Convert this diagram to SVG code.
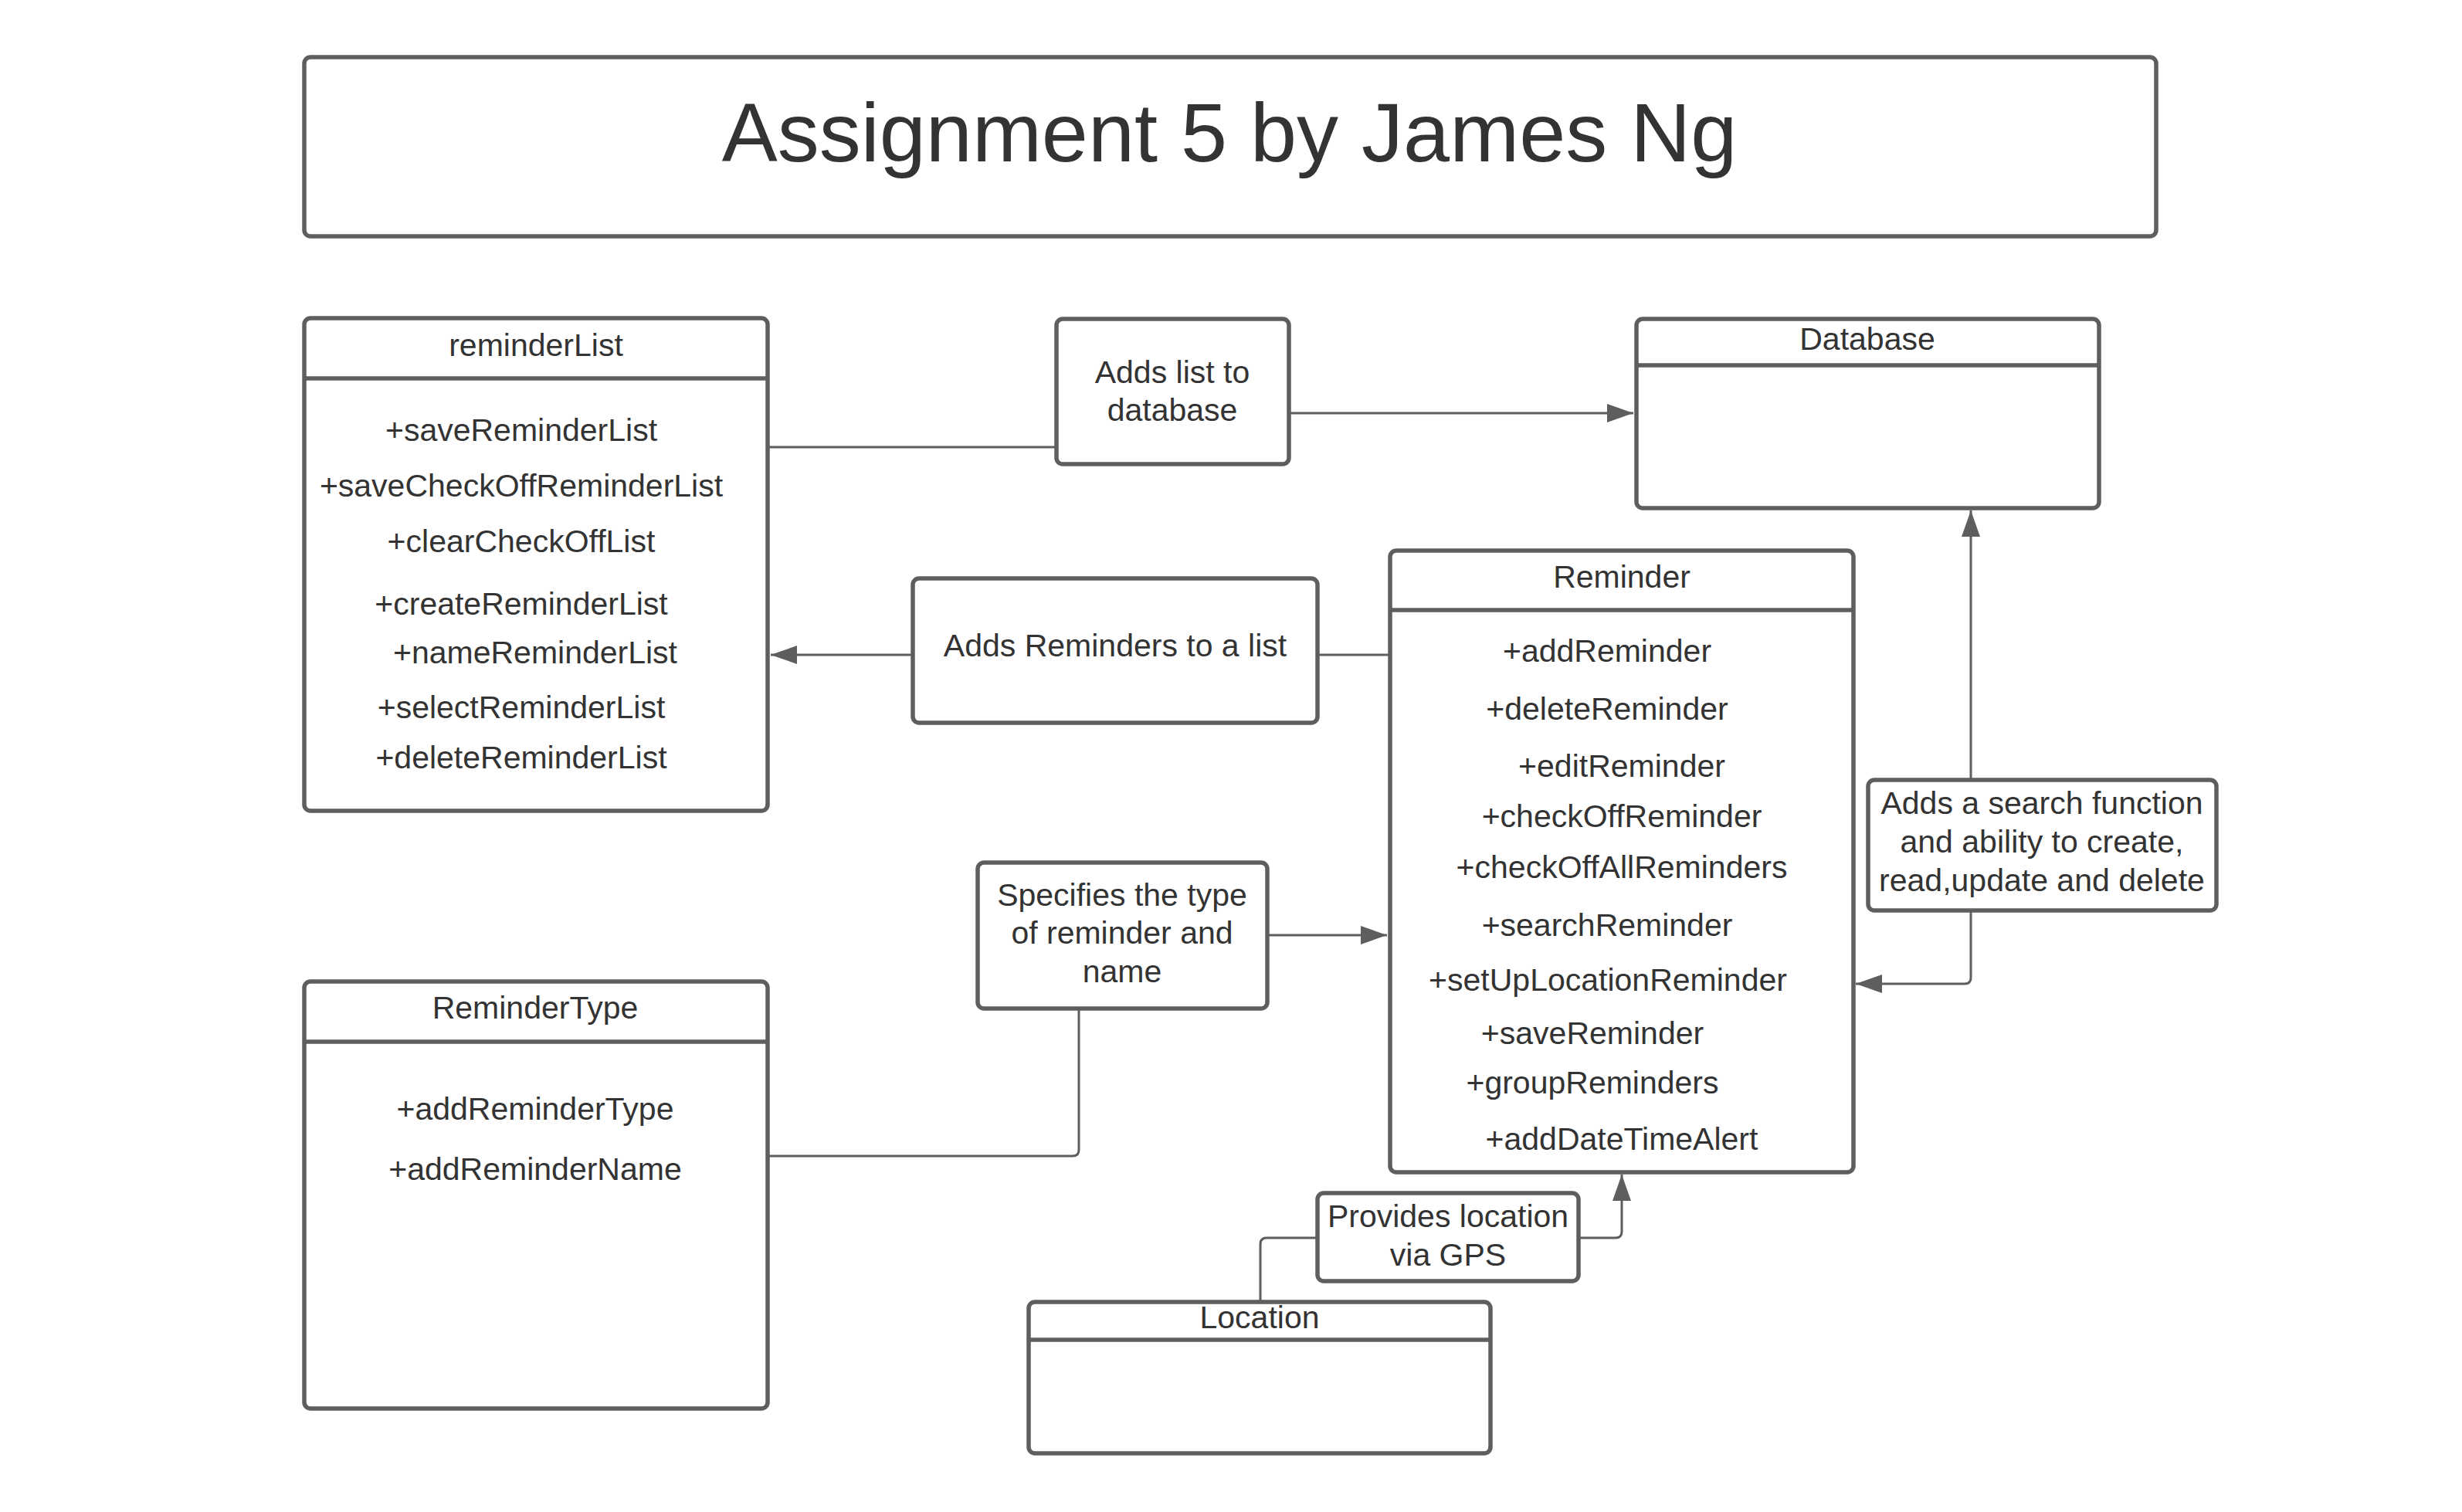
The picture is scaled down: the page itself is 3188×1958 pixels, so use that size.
<svg xmlns="http://www.w3.org/2000/svg" width="3188" height="1958" viewBox="0 0 3188 1958">
<style>
.box{fill:#ffffff;stroke:#5e5e5e;stroke-width:5.5}
.div{stroke:#5e5e5e;stroke-width:5.5;fill:none}
.t{font-family:"Liberation Sans",Arial,sans-serif;font-size:41px;fill:#333333;text-anchor:middle}
.title{font-family:"Liberation Sans",Arial,sans-serif;font-size:108px;fill:#333333;text-anchor:middle}
.c{fill:none;stroke:#5e5e5e;stroke-width:3}
</style>
<defs>
<marker id="arr" markerWidth="34" markerHeight="24" refX="34" refY="12" orient="auto" markerUnits="userSpaceOnUse">
<path d="M0,0 L34,12 L0,24 z" fill="#5e5e5e"/>
</marker>
</defs>
<rect width="3188" height="1958" fill="#ffffff"/>

<g id="connectors">
<path class="c" d="M994 579 H1368"/>
<path class="c" d="M1669 535 H2115" marker-end="url(#arr)"/>
<path class="c" d="M1800 848 H1706"/>
<path class="c" d="M1182 848 H998" marker-end="url(#arr)"/>
<path class="c" d="M1641 1211 H1796" marker-end="url(#arr)"/>
<path class="c" d="M1397 1306 V1489 Q1397 1497 1389 1497 H994"/>
<path class="c" d="M1632 1686 V1611 Q1632 1603 1640 1603 H1706"/>
<path class="c" d="M2044 1603 H2092 Q2100 1603 2100 1595 V1521" marker-end="url(#arr)"/>
<path class="c" d="M2552 1010 V661" marker-end="url(#arr)"/>
<path class="c" d="M2552 1179 V1266 Q2552 1274 2544 1274 H2403" marker-end="url(#arr)"/>
</g>

<g id="title">
<rect class="box" x="394" y="74" width="2398" height="232" rx="8"/>
<text class="title" x="1592" y="209">Assignment 5 by James Ng</text>
</g>

<g id="reminderList">
<rect class="box" x="394" y="412" width="600" height="638" rx="8"/>
<line class="div" x1="394" y1="490" x2="994" y2="490"/>
<text class="t" x="694" y="461">reminderList</text>
<text class="t" x="675" y="571">+saveReminderList</text>
<text class="t" x="675" y="643">+saveCheckOffReminderList</text>
<text class="t" x="675" y="715">+clearCheckOffList</text>
<text class="t" x="675" y="796">+createReminderList</text>
<text class="t" x="693" y="859">+nameReminderList</text>
<text class="t" x="675" y="930">+selectReminderList</text>
<text class="t" x="675" y="995">+deleteReminderList</text>
</g>

<g id="addsListToDatabase">
<rect class="box" x="1368" y="413" width="301" height="188" rx="8"/>
<text class="t" x="1518" y="496">Adds list to</text>
<text class="t" x="1518" y="545">database</text>
</g>

<g id="database">
<rect class="box" x="2119" y="413" width="599" height="245" rx="8"/>
<line class="div" x1="2119" y1="473" x2="2718" y2="473"/>
<text class="t" x="2418" y="453">Database</text>
</g>

<g id="addsRemindersToList">
<rect class="box" x="1182" y="749" width="524" height="187" rx="8"/>
<text class="t" x="1444" y="850">Adds Reminders to a list</text>
</g>

<g id="reminder">
<rect class="box" x="1800" y="713" width="600" height="805" rx="8"/>
<line class="div" x1="1800" y1="790" x2="2400" y2="790"/>
<text class="t" x="2100" y="761">Reminder</text>
<text class="t" x="2081" y="857">+addReminder</text>
<text class="t" x="2081" y="932">+deleteReminder</text>
<text class="t" x="2100" y="1006">+editReminder</text>
<text class="t" x="2100" y="1071">+checkOffReminder</text>
<text class="t" x="2100" y="1137">+checkOffAllReminders</text>
<text class="t" x="2081" y="1212">+searchReminder</text>
<text class="t" x="2082" y="1283">+setUpLocationReminder</text>
<text class="t" x="2062" y="1352">+saveReminder</text>
<text class="t" x="2062" y="1416">+groupReminders</text>
<text class="t" x="2100" y="1489">+addDateTimeAlert</text>
</g>

<g id="searchFunction">
<rect class="box" x="2419" y="1010" width="451" height="169" rx="8"/>
<text class="t" x="2644" y="1054">Adds a search function</text>
<text class="t" x="2644" y="1104">and ability to create,</text>
<text class="t" x="2644" y="1154">read,update and delete</text>
</g>

<g id="specifiesType">
<rect class="box" x="1266" y="1117" width="375" height="189" rx="8"/>
<text class="t" x="1453" y="1173">Specifies the type</text>
<text class="t" x="1453" y="1222">of reminder and</text>
<text class="t" x="1453" y="1272">name</text>
</g>

<g id="reminderType">
<rect class="box" x="394" y="1271" width="600" height="553" rx="8"/>
<line class="div" x1="394" y1="1349" x2="994" y2="1349"/>
<text class="t" x="693" y="1319">ReminderType</text>
<text class="t" x="693" y="1450">+addReminderType</text>
<text class="t" x="693" y="1528">+addReminderName</text>
</g>

<g id="providesLocation">
<rect class="box" x="1706" y="1545" width="338" height="114" rx="8"/>
<text class="t" x="1875" y="1589">Provides location</text>
<text class="t" x="1875" y="1639">via GPS</text>
</g>

<g id="location">
<rect class="box" x="1332" y="1686" width="598" height="196" rx="8"/>
<line class="div" x1="1332" y1="1735" x2="1930" y2="1735"/>
<text class="t" x="1631" y="1720">Location</text>
</g>
</svg>
